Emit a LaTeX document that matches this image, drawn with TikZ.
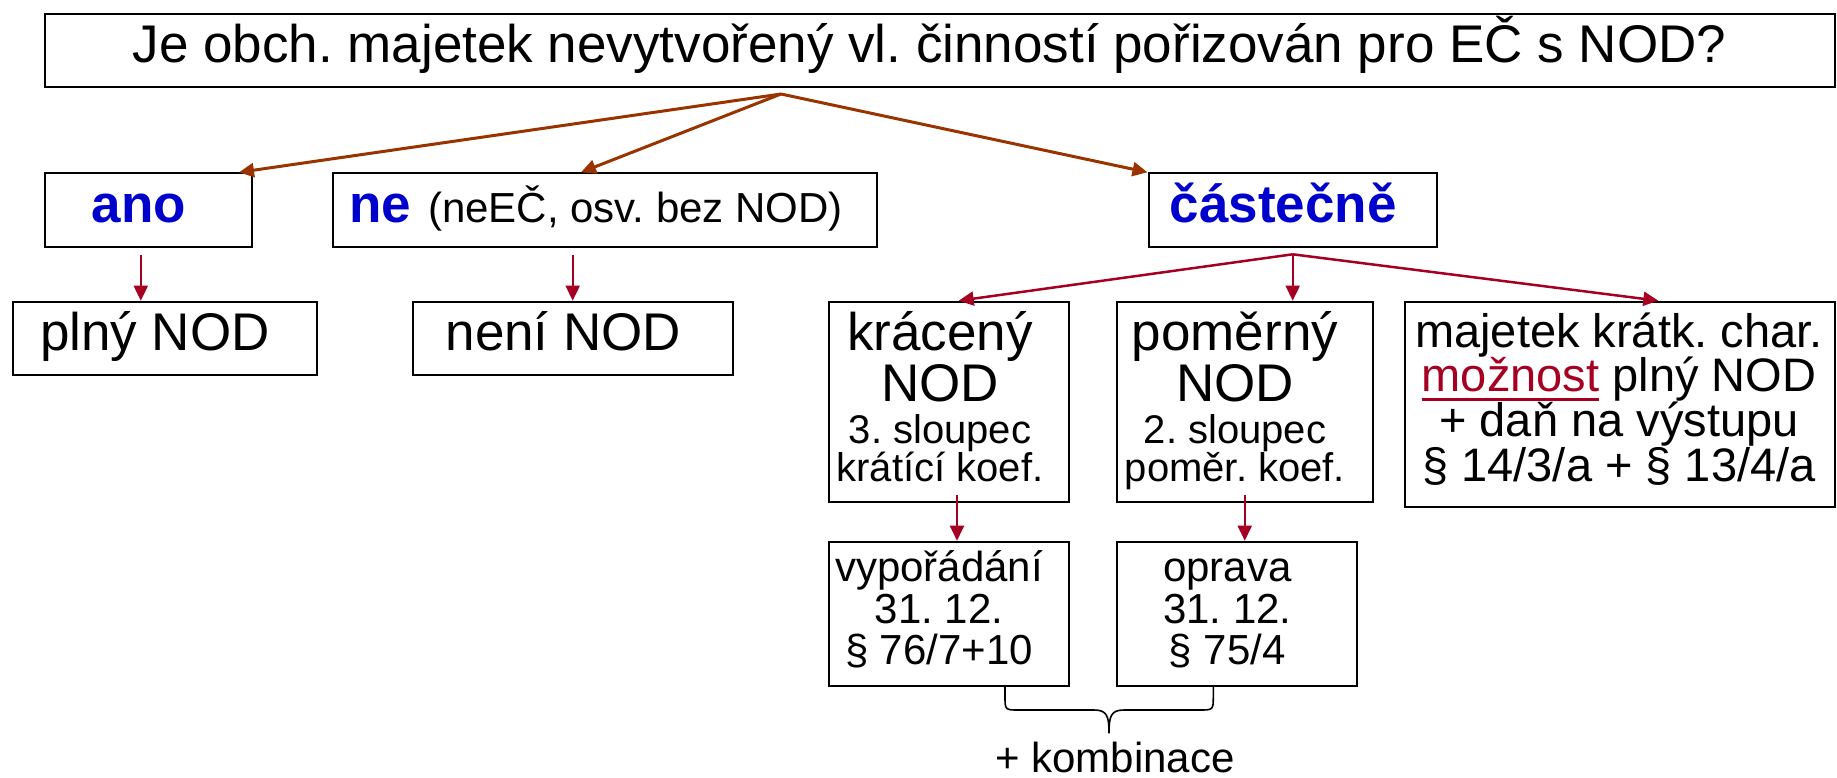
\documentclass[tikz,border=0pt]{standalone}
\usepackage{fontspec}
\setmainfont{Liberation Sans}
\usetikzlibrary{arrows.meta}
\definecolor{tblue}{RGB}{0,0,204}
\definecolor{tbrown}{RGB}{153,51,0}
\definecolor{tred}{RGB}{165,0,33}
\newcommand\szA{\fontsize{53}{53}\selectfont}
\newcommand\szB{\fontsize{47}{47}\selectfont}
\newcommand\szC{\fontsize{42}{42}\selectfont}
\newcommand\szD{\fontsize{40}{40}\selectfont}
\newcommand\ulred[1]{\setbox0=\hbox{#1}\rlap{\rule[-9.1pt]{\wd0}{3pt}}\box0}
\frenchspacing
\begin{document}
\begin{tikzpicture}[x=1pt,y=-1pt,
  box/.style={draw=black,line width=2pt,inner sep=0pt,rectangle},
  txt/.style={anchor=base,inner sep=0pt},
  arrA/.style={draw=tbrown,line width=3pt,-{Triangle[length=15pt,width=14pt]}},
  arrB/.style={draw=tred,line width=2.5pt,-{Triangle[length=15pt,width=14pt]}},
  arrC/.style={draw=tred,line width=2pt,-{Triangle[length=15pt,width=14pt]}},
  brace/.style={draw=black,line width=1.6pt}]
\useasboundingbox (0,0) rectangle (1837,777);

% boxes
\node[box,minimum width=1790.4pt,minimum height=73pt] (title) at (939.8,50.5) {};
\node[box,minimum width=207.7pt,minimum height=73.4pt] (ano) at (148.45,210) {};
\node[box,minimum width=543.9pt,minimum height=73.4pt] (ne) at (604.65,210) {};
\node[box,minimum width=288.4pt,minimum height=73.4pt] (cast) at (1292.7,210) {};
\node[box,minimum width=304pt,minimum height=73.3pt] (plny) at (164.9,338.35) {};
\node[box,minimum width=320pt,minimum height=73.3pt] (neni) at (573,338.35) {};
\node[box,minimum width=240.3pt,minimum height=200.6pt] (krac) at (948.85,402) {};
\node[box,minimum width=256.1pt,minimum height=200.6pt] (pomer) at (1244.75,402) {};
\node[box,minimum width=430pt,minimum height=205pt] (maj) at (1620,404.2) {};
\node[box,minimum width=240.3pt,minimum height=144pt] (vyp) at (948.85,613.7) {};
\node[box,minimum width=240.2pt,minimum height=144pt] (oprava) at (1236.8,613.7) {};

% texts
\node[txt,font=\szA] (titletxt) at (929.5,62) {Je obch. majetek nevytvořený vl. činností pořizován pro EČ s NOD?};
\node[txt,font=\szA\bfseries,text=tblue] (anotxt) at (139,222) {ano};
\node[txt] (netxt) at (596,222) {{\szA\bfseries\color{tblue}ne}\hspace{17pt}{\szC(neEČ, osv. bez NOD)}};
\node[txt,font=\szA\bfseries,text=tblue] (casttxt) at (1283.3,222) {částečně};
\node[txt,font=\szA] (plnytxt) at (154.9,350) {plný NOD};
\node[txt,font=\szA] (nenitxt) at (563.4,350) {není NOD};

\node[txt,font=\szA] (kracA) at (940,350) {krácený};
\node[txt,font=\szA] (kracB) at (940,401.7) {NOD};
\node[txt,font=\szD] (kracC) at (940,443.3) {3. sloupec};
\node[txt,font=\szD] (kracD) at (940,481.7) {krátící koef.};

\node[txt,font=\szA] (pomA) at (1235,350) {poměrný};
\node[txt,font=\szA] (pomB) at (1235,401.7) {NOD};
\node[txt,font=\szD] (pomC) at (1235,443.3) {2. sloupec};
\node[txt,font=\szD] (pomD) at (1235,481.7) {poměr. koef.};

\node[txt,font=\szB] (majA) at (1619,347.3) {majetek krátk. char.};
\node[txt,font=\szB] (majB) at (1619,391.7) {{\color{tred}\ulred{možnost}} plný NOD};
\node[txt,font=\szB] (majC) at (1619,436.7) {+ daň na výstupu};
\node[txt,font=\szB] (majD) at (1619,481.7) {§ 14/3/a + § 13/4/a};

\node[txt,font=\szC] (vypA) at (939,581.7) {vypořádání};
\node[txt,font=\szC] (vypB) at (939,623.3) {31. 12.};
\node[txt,font=\szC] (vypC) at (939,664.3) {§ 76/7+10};

\node[txt,font=\szC] (opA) at (1227.3,581.7) {oprava};
\node[txt,font=\szC] (opB) at (1227.3,623.3) {31. 12.};
\node[txt,font=\szC] (opC) at (1227.3,664.3) {§ 75/4};

\node[txt,font=\szC] (komb) at (1115,772.5) {+ kombinace};

% connectors
\coordinate (splitA) at (781,94);
\coordinate (splitB) at ([yshift=-6.6pt]cast.south);
\draw[arrA] (splitA) -- ([xshift=-14.3pt]ano.north east);
\draw[arrA] (splitA) -- ([xshift=-23.65pt]ne.north);
\draw[arrA] (splitA) -- (cast.north west);

\draw[arrB] (splitB) -- ([xshift=9.85pt]krac.north);
\draw[arrC] (splitB) -- ([xshift=47.95pt]pomer.north);
\draw[arrB] (splitB) -- ([xshift=38.3pt]maj.north);

\draw[arrC] ([xshift=-7.65pt,yshift=-7.3pt]ano.south) -- ([xshift=-7.65pt]ano.south |- plny.north);
\draw[arrC] ([xshift=-31.95pt,yshift=-7.3pt]ne.south) -- ([xshift=-31.95pt]ne.south |- neni.north);
\draw[arrC] ([xshift=8.15pt,yshift=8pt]krac.south) -- ([xshift=8.15pt]krac.south |- vyp.north);
\draw[arrC] ([yshift=8pt]pomer.south) -- (pomer.south |- oprava.north);

% brace
\coordinate (bl) at ([xshift=56.15pt]vyp.south);
\coordinate (br) at ([xshift=-23.5pt]oprava.south);
\coordinate (btip) at (1109,733.3);
\draw[brace] (bl) -- (1005,696) .. controls (1005,710) .. (1019,710) -- (1094,710)
  .. controls (1107,710) and (1109,716) .. (btip)
  .. controls (1109,716) and (1111,710) .. (1124,710) -- (1199,710)
  .. controls (1213.3,710) .. (1213.3,696) -- (br);
\end{tikzpicture}
\end{document}
